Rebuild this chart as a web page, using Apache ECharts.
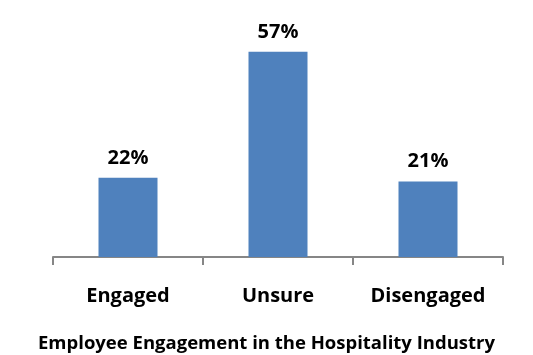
<!DOCTYPE html>
<html>
<head>
<meta charset="utf-8">
<script src="https://cdn.jsdelivr.net/npm/echarts@6/dist/echarts.min.js"></script>
<style>html,body{margin:0;padding:0;background:#fff}#c{width:533px;height:355px}</style>
</head>
<body>
<div id="c"></div>
<script>
var categories = ['Engaged', 'Unsure', 'Disengaged'];
var values = [22, 57, 21];
var chartTitle = 'Employee Engagement in the Hospitality Industry';

var chart = echarts.init(document.getElementById('c'), null, {renderer: 'canvas'});
var FONT = '"Open Sans", "Noto Sans", sans-serif';
chart.setOption({
  animation: false,
  backgroundColor: '#ffffff',
  title: {
    text: chartTitle,
    left: 'center',
    top: 329,
    textStyle: {fontFamily: FONT, fontWeight: 'bold', fontSize: 18.5, color: '#000'}
  },
  grid: {left: 53, right: 30, top: 41, height: 216},
  xAxis: {
    type: 'category',
    data: categories,
    axisLine: {lineStyle: {color: '#868686', width: 2}},
    axisTick: {show: true, length: 8, lineStyle: {color: '#868686', width: 2}},
    axisLabel: {margin: 29, fontFamily: FONT, fontWeight: 'bold', fontSize: 20, color: '#000'}
  },
  yAxis: {
    type: 'value', min: 0, max: 60,
    show: false,
    splitLine: {show: false}
  },
  series: [{
    type: 'bar',
    data: values,
    barWidth: 59,
    itemStyle: {color: '#4F81BD'},
    label: {
      show: true, position: 'top', distance: 10,
      formatter: '{c}%',
      fontFamily: FONT, fontWeight: 'bold', fontSize: 20, color: '#000'
    }
  }]
});
</script>
</body>
</html>
